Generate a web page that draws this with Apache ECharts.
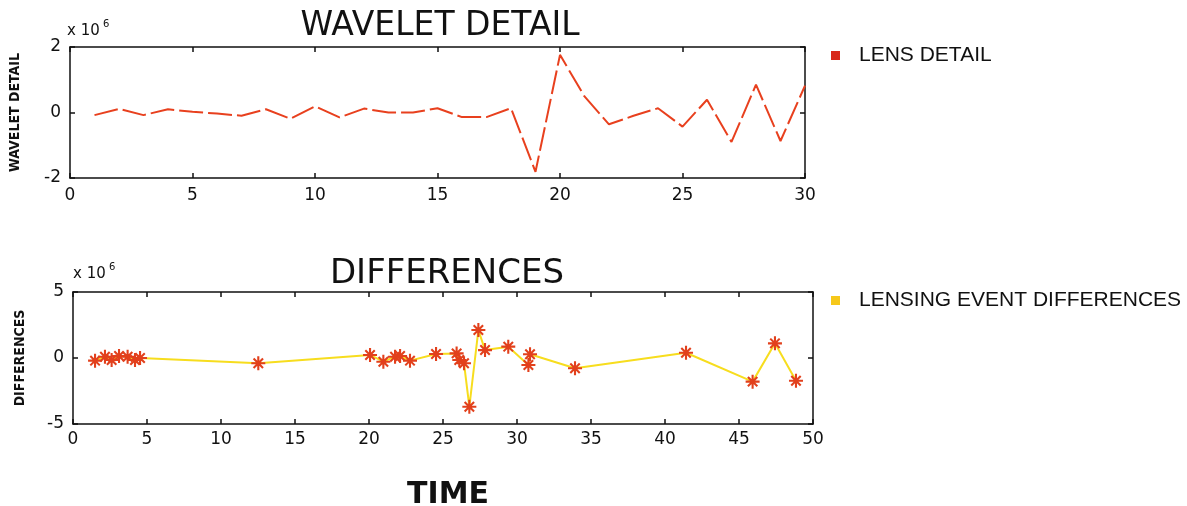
<!DOCTYPE html>
<html>
<head>
<meta charset="utf-8">
<script src="https://cdn.jsdelivr.net/npm/echarts@6/dist/echarts.min.js"></script>
<style>
  html, body { margin: 0; padding: 0; background: #ffffff; }
  #chart { width: 1187px; height: 506px; }
</style>
</head>
<body>
<div id="chart"></div>
<script>
// Wavelet detail coefficients (units of 1e6), one per time step
const detailTime = [1, 2, 3, 4, 5, 6, 7, 8, 9, 10, 11, 12, 13, 14, 15,
  16, 17, 18, 19, 20, 21, 22, 23, 24, 25, 26, 27, 28, 29, 30];
const detailValues = [-0.08, 0.11, -0.08, 0.10, 0.02, -0.03, -0.10, 0.10, -0.19, 0.19,
  -0.15, 0.12, 0.00, 0.00, 0.13, -0.14, -0.14, 0.13, -1.81, 1.76,
  0.49, -0.36, -0.10, 0.13, -0.43, 0.39, -0.90, 0.85, -0.87, 0.82];

// Lensing event differences (units of 1e6) at irregular times
const diffTime = [1.49, 2.16, 2.61, 3.11, 3.69, 4.19, 4.53, 12.52, 20.07, 20.97,
  21.76, 22.1, 22.77, 24.53, 25.92, 26.1, 26.42, 26.78, 27.39, 27.84,
  29.41, 30.77, 30.88, 33.92, 41.42, 45.92, 47.43, 48.85];
const diffValues = [-0.2, 0.1, -0.15, 0.15, 0.1, -0.15, 0.0, -0.4, 0.23, -0.28,
  0.1, 0.15, -0.2, 0.3, 0.35, -0.15, -0.4, -3.69, 2.12, 0.6,
  0.86, -0.53, 0.28, -0.78, 0.4, -1.79, 1.11, -1.72];

// Axis ranges and tick steps
const detailXRange = [0, 30, 5];
const detailYRange = [-2, 2, 2];
const diffXRange = [0, 50, 5];
const diffYRange = [-5, 5, 5];

const seriesNames = ['LENS DETAIL', 'LENSING EVENT DIFFERENCES'];
const titles = ['WAVELET DETAIL', 'DIFFERENCES'];
const yNames = ['WAVELET DETAIL', 'DIFFERENCES'];
const xName = 'TIME';
const scaleText = ['x 10', '6'];

const pairs = (xs, ys) => xs.map((x, i) => [x, ys[i]]);

const ASTERISK = 'path://M0 8.5H20V11.5H0Z M8.5 0H11.5V20H8.5Z M2.2 4.3L4.3 2.2L17.8 15.7L15.7 17.8Z M15.7 2.2L17.8 4.3L4.3 17.8L2.2 15.7Z';

const tickFont = { fontFamily: 'DejaVu Sans', fontSize: 17, color: '#111' };
const boxLine = { show: true, onZero: false, lineStyle: { color: '#111', width: 1.5 } };
const inTick = { show: true, inside: true, length: 5, lineStyle: { color: '#111', width: 1.5 } };
const nameFontFamily = '"DejaVu Sans Condensed", "Liberation Sans"';

function xAxes(grid, r) {
  return [
    { type: 'value', gridIndex: grid, position: 'bottom', min: r[0], max: r[1], interval: r[2],
      axisLine: boxLine, axisTick: inTick, splitLine: { show: false },
      axisLabel: Object.assign({ margin: grid === 0 ? 9 : 7 }, tickFont) },
    { type: 'value', gridIndex: grid, position: 'top', min: r[0], max: r[1], interval: r[2],
      axisLine: boxLine, axisTick: inTick, splitLine: { show: false }, axisLabel: { show: false } }
  ];
}
function yAxes(grid, r, name, nameFont, gap) {
  return [
    { type: 'value', gridIndex: grid, position: 'left', min: r[0], max: r[1], interval: r[2],
      name: name, nameLocation: 'middle', nameRotate: 90, nameGap: gap,
      nameTextStyle: nameFont,
      axisLine: boxLine, axisTick: inTick, splitLine: { show: false },
      axisLabel: Object.assign({ margin: 9 }, tickFont) },
    { type: 'value', gridIndex: grid, position: 'right', min: r[0], max: r[1], interval: r[2],
      axisLine: boxLine, axisTick: inTick, splitLine: { show: false }, axisLabel: { show: false } }
  ];
}

const chart = echarts.init(document.getElementById('chart'), null, { renderer: 'canvas' });

chart.setOption({
  backgroundColor: '#ffffff',
  animation: false,
  title: [
    { text: titles[0], left: 435, top: 5, textAlign: 'center',
      textStyle: { fontFamily: 'DejaVu Sans', fontSize: 33, fontWeight: 'normal', color: '#111' } },
    { text: titles[1], left: 442, top: 252, textAlign: 'center',
      textStyle: { fontFamily: 'DejaVu Sans', fontSize: 34, fontWeight: 'normal', color: '#111' } },
    { text: xName, left: 443, top: 475, textAlign: 'center',
      textStyle: { fontFamily: 'DejaVu Sans', fontSize: 30, fontWeight: 'bold', color: '#111' } }
  ],
  legend: [
    { data: [{ name: seriesNames[0], itemStyle: { color: '#d8281a' } }],
      left: 826, top: 40, icon: 'rect', itemWidth: 9, itemHeight: 9,
      textStyle: { fontFamily: 'Liberation Sans', fontSize: 21, color: '#111', padding: [0, 0, 0, 14] } },
    { data: [{ name: seriesNames[1], itemStyle: { color: '#f6c81a' } }],
      left: 826, top: 285, icon: 'rect', itemWidth: 9, itemHeight: 9,
      textStyle: { fontFamily: 'Liberation Sans', fontSize: 21, color: '#111', padding: [0, 0, 0, 14] } }
  ],
  grid: [
    { left: 67, top: 47, width: 738, height: 131, show: false },
    { left: 73, top: 292, width: 740, height: 132, show: false }
  ],
  xAxis: [].concat(xAxes(0, detailXRange), xAxes(1, diffXRange)),
  yAxis: [].concat(
    yAxes(0, detailYRange, yNames[0], { fontFamily: nameFontFamily, fontSize: 14, fontWeight: 'bold', color: '#111' }, 48),
    yAxes(1, diffYRange, yNames[1], { fontFamily: nameFontFamily, fontSize: 14, fontWeight: 'bold', color: '#111' }, 46)
  ),
  graphic: [
    { type: 'text', left: 67, top: 24, style: { text: scaleText[0], font: '15px "DejaVu Sans"', fill: '#111' } },
    { type: 'text', left: 103, top: 19, style: { text: scaleText[1], font: '10px "DejaVu Sans"', fill: '#111' } },
    { type: 'text', left: 73, top: 267, style: { text: scaleText[0], font: '15px "DejaVu Sans"', fill: '#111' } },
    { type: 'text', left: 109, top: 262, style: { text: scaleText[1], font: '10px "DejaVu Sans"', fill: '#111' } }
  ],
  series: [
    { name: seriesNames[0], type: 'line', xAxisIndex: 0, yAxisIndex: 0,
      data: pairs(detailTime, detailValues), showSymbol: false, symbol: 'none',
      lineStyle: { color: '#e8401e', width: 2, type: [24, 5] },
      itemStyle: { color: '#e8401e' } },
    { name: seriesNames[1], type: 'line', xAxisIndex: 2, yAxisIndex: 2,
      data: pairs(diffTime, diffValues), symbol: ASTERISK, symbolSize: 14,
      lineStyle: { color: '#f7dd1e', width: 2 },
      itemStyle: { color: '#e2401c' } }
  ]
});
</script>
</body>
</html>
